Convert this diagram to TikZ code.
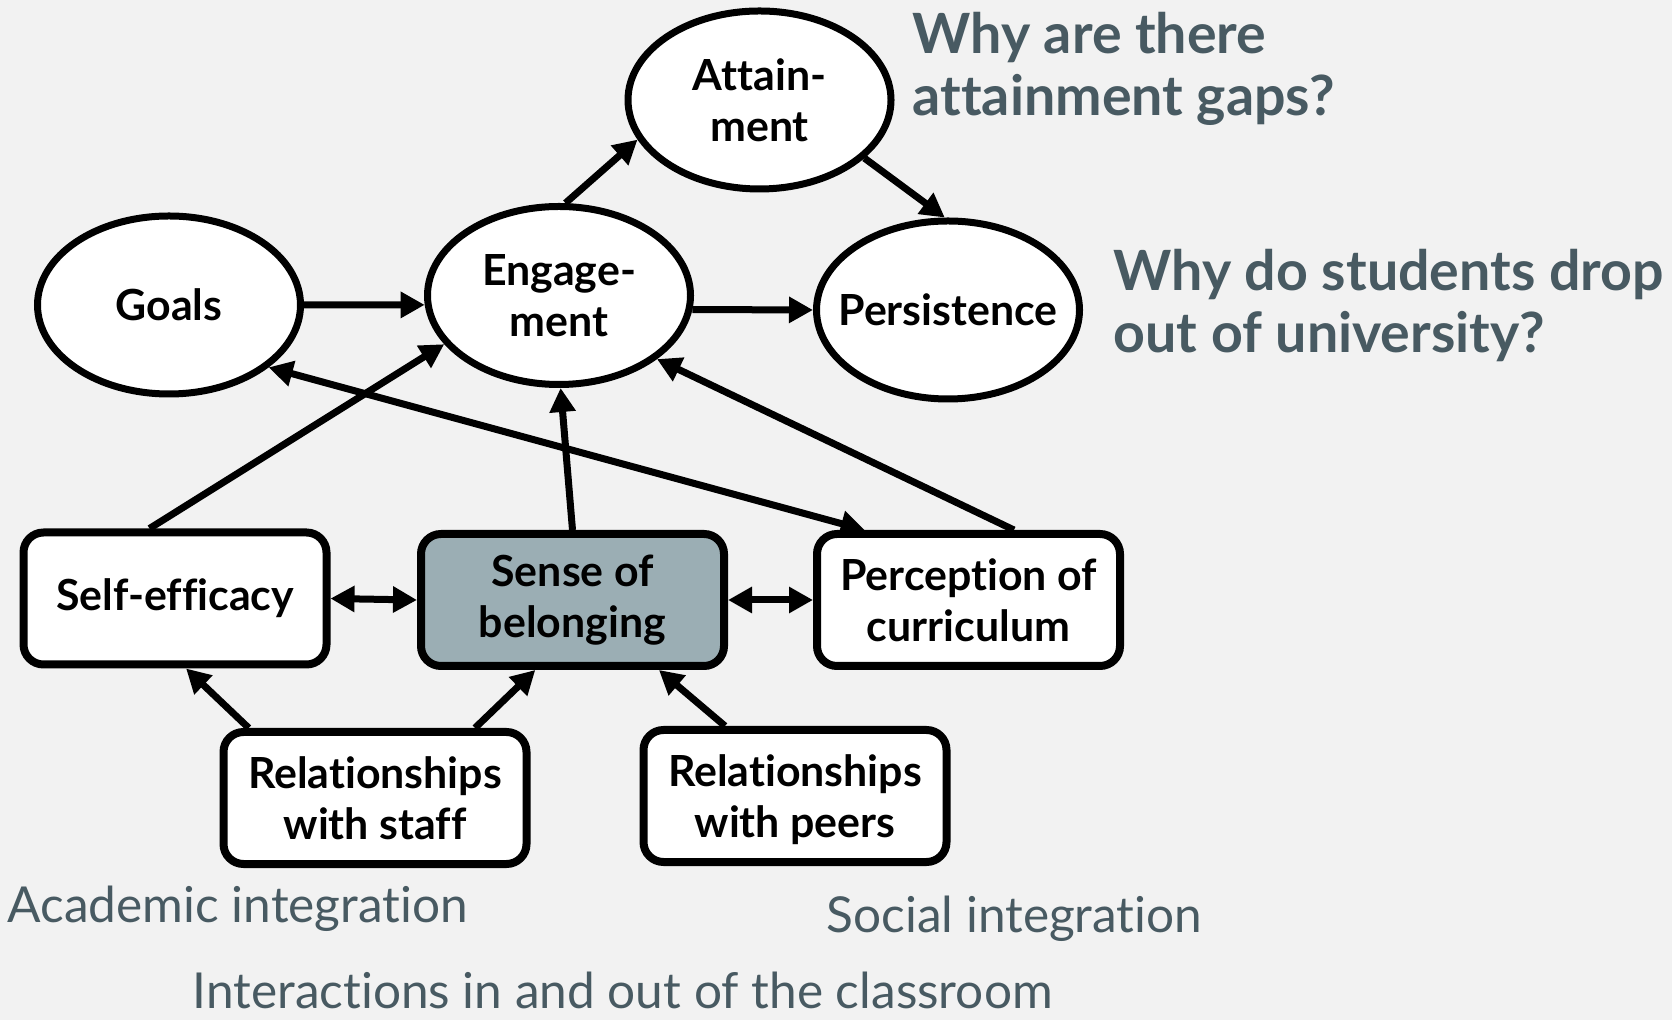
\documentclass[tikz,border=0pt]{standalone}
\usepackage{fontspec}
\setmainfont{Lato}[Ligatures=NoCommon]
\usepackage{tikz}
\usetikzlibrary{positioning}
\usetikzlibrary{arrows.meta}
\usetikzlibrary{shapes.geometric}
\definecolor{bgcol}{RGB}{242,242,242}
\definecolor{belongcol}{RGB}{155,174,180}
\definecolor{slate}{RGB}{72,90,98}
\newcommand{\nodefont}{\fontsize{12.2}{14.5}\selectfont\bfseries}

\begin{document}
\begin{tikzpicture}[
    >={Triangle[length=0.24cm,width=0.25cm]},
    oval/.style={ellipse,draw,line width=0.07cm,fill=white,
        minimum width=2.63cm,minimum height=1.78cm,
        inner xsep=-0.3cm,inner ysep=0pt,align=center,font=\nodefont},
    block/.style={rectangle,rounded corners=0.2cm,draw,line width=0.08cm,fill=white,
        minimum width=3.03cm,minimum height=1.32cm,align=center,font=\nodefont},
    link/.style={->,line width=0.07cm},
    question/.style={anchor=base west,align=left,inner sep=0pt,text=slate,
        font=\fontsize{15.8}{17.9}\selectfont\bfseries},
    note/.style={anchor=base west,inner sep=0pt,text=slate,
        font=\fontsize{14.1}{17}\selectfont}]
    % page and background
    \useasboundingbox (0,0) rectangle (16.72,-10.20);
    \fill[bgcol] (0,0) rectangle (16.72,-10.20);
    % outcome ovals
    \node at (7.595,-1.00) [oval] (attain)  {Attain-\\ment};
    \node at (1.69,-3.05)  [oval] (goals)   {Goals};
    \node at (5.59,-2.955) [oval] (engage)  {Engage-\\ment};
    \node at (9.48,-3.10)  [oval] (persist) {Persistence};
    % middle row
    \node at (1.75,-5.985) [block] (selfeff) {Self-efficacy};
    \node at (5.725,-6.00) [block,fill=belongcol] (belong) {Sense of\\belonging};
    \node at (9.685,-6.00) [block] (percept) {Perception of\\curriculum};
    % relationships
    \node at (3.75,-7.98)  [block] (relstaff) {Relationships\\with staff};
    \node at (7.95,-7.96)  [block,text depth=0pt] (relpeers) {Relationships\\with peers};
    % questions and labels (base = last line)
    \node at (9.12,-1.16)  [question] (gapq)  {Why are there\\attainment gaps?};
    \node at (11.13,-3.53) [question] (dropq) {Why do students drop\\out of university?};
    \node at (0.07,-9.22)  [note] (acad)     {Academic integration};
    \node at (8.26,-9.32)  [note] (social)   {Social integration};
    \node at (1.92,-10.08) [note] (interact) {Interactions in and out of the classroom};
    % arrows between ovals
    \draw[link] (engage.86)  -- (attain.198);
    \draw[link] (attain.331) -- (persist.92);
    \draw[link] (goals.0)    -- (engage.184);
    \draw[link] (engage.354) -- (persist.west);
    % arrows into engagement
    \draw[link] (selfeff.110)  -- (engage.203);
    \draw[link] (belong.north) -- (engage.271);
    \draw[link] (percept.57)   -- (engage.327);
    \draw[<->,line width=0.07cm] (goals.328) -- (percept.146);
    % middle row links
    \draw[<->,line width=0.07cm] (selfeff.east) -- (belong.west);
    \draw[<->,line width=0.07cm] (belong.east)  -- (percept.west);
    % relationships into the middle row
    \draw[link] (relstaff.151) -- (selfeff.279);
    \draw[link] (relstaff.35)  -- (belong.242);
    \draw[link] (relpeers.135) -- (belong.321);
\end{tikzpicture}
\end{document}
